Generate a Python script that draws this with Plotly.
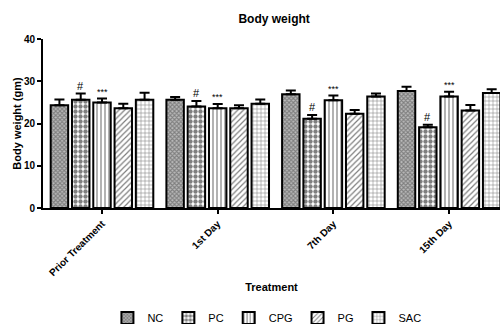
import plotly.graph_objects as go

categories = ["Prior Treatment", "1st Day", "7th Day", "15th Day"]
groups = ["NC", "PC", "CPG", "PG", "SAC"]
nc = [24.3, 25.6, 26.9, 27.7]
pc = [25.6, 24.0, 21.1, 19.1]
cpg = [25.0, 23.6, 25.5, 26.4]
pg = [23.6, 23.6, 22.3, 23.1]
sac = [25.6, 24.7, 26.4, 27.2]
nc_err = [1.4, 0.7, 0.9, 1.0]
pc_err = [1.5, 1.3, 0.9, 0.6]
cpg_err = [0.9, 1.0, 1.1, 1.1]
pg_err = [1.1, 0.7, 0.9, 1.3]
sac_err = [1.7, 1.0, 0.7, 0.9]
pc_marks = ["#", "#", "#", "#"]
cpg_marks = ["***", "***", "***", "***"]

values = [nc, pc, cpg, pg, sac]
errors = [nc_err, pc_err, cpg_err, pg_err, sac_err]
patterns = [
    dict(shape="x", size=3, solidity=0.6, fgcolor="#444", bgcolor="#bbb"),
    dict(shape=".", size=5, solidity=0.6, fgcolor="black", bgcolor="white"),
    dict(shape="|", size=4, solidity=0.3, fgcolor="black", bgcolor="white"),
    dict(shape="/", size=4, solidity=0.3, fgcolor="black", bgcolor="white"),
    dict(shape="+", size=4, solidity=0.25, fgcolor="black", bgcolor="white"),
]

font = "Liberation Sans, Arial, sans-serif"
fig = go.Figure()
for name, v, e, p in zip(groups, values, errors, patterns):
    fig.add_trace(go.Bar(
        name=name, x=categories, y=v,
        marker=dict(color="white", pattern=p, line=dict(color="black", width=2)),
        error_y=dict(type="data", array=e, arrayminus=[0] * len(e), symmetric=False,
                     color="black", thickness=2, width=5),
    ))

L, R, T, B = 43, 3, 39, 116
W, H = 503, 324
bargap, bargroupgap = 0.08, 0.18
xr = [-0.51, 3.44]
unit = (W - L - R) / (xr[1] - xr[0])
slot = unit * (1 - bargap) / len(groups)

ann = []
for i, c in enumerate(categories):
    ann.append(dict(x=c, y=pc[i] + pc_err[i], text=pc_marks[i], xshift=-slot, yshift=8,
                    showarrow=False, font=dict(size=11, color="black", family=font)))
    ann.append(dict(x=c, y=cpg[i] + cpg_err[i], text=cpg_marks[i], xshift=0, yshift=7,
                    showarrow=False, font=dict(size=9, color="black", family=font)))

fig.update_layout(
    width=W, height=H,
    margin=dict(l=L, r=R, t=T, b=B, autoexpand=False),
    paper_bgcolor="white", plot_bgcolor="white",
    barmode="group", bargap=bargap, bargroupgap=bargroupgap,
    title=dict(text="<b>Body weight</b>", x=0.545, xanchor="center", y=0.955,
               font=dict(size=12, family=font, color="black")),
    font=dict(family=font, color="black"),
    xaxis=dict(range=xr, showline=True, linecolor="black", linewidth=2, ticks="outside",
               ticklen=4, tickwidth=1.5, tickcolor="black", tickangle=-45, automargin=False,
               tickfont=dict(size=10, family=font, color="black", weight="bold"),
               title=dict(text="<b>Treatment</b>", font=dict(size=11, family=font), standoff=6),
               showgrid=False, zeroline=False),
    yaxis=dict(range=[0, 40], tickvals=[0, 10, 20, 30, 40], showline=True, linecolor="black",
               linewidth=2, ticks="outside", ticklen=4, tickwidth=1.5, tickcolor="black",
               automargin=False,
               tickfont=dict(size=10, family=font, color="black", weight="bold"),
               title=dict(text="<b>Body weight (gm)</b>", font=dict(size=11, family=font), standoff=0),
               showgrid=False, zeroline=False),
    legend=dict(orientation="h", x=0.49, xanchor="center", y=-0.565, yanchor="top",
                font=dict(size=11, family=font), itemwidth=30, tracegroupgap=0),
    annotations=ann,
)
fig.write_html("out.html", config={"displayModeBar": False},
               post_script="document.body.style.margin='0';")
